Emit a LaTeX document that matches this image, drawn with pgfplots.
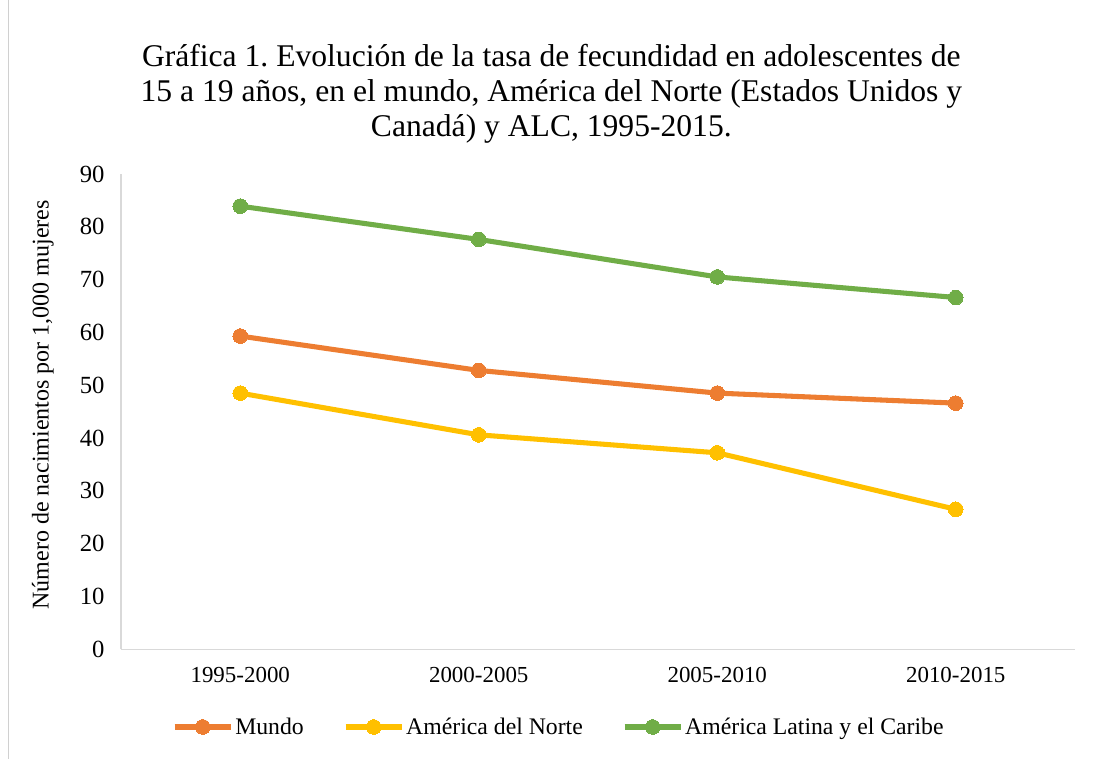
\documentclass[border=0pt]{standalone}
\usepackage{fontspec}
\setmainfont{Liberation Serif}
\usepackage{pgfplots}
\pgfplotsset{compat=1.18}
\definecolor{cOr}{HTML}{ED7D31}
\definecolor{cYe}{HTML}{FFC000}
\definecolor{cGr}{HTML}{70AD47}
\definecolor{axg}{HTML}{D9D9D9}
\definecolor{brd}{HTML}{D0D0D0}
\frenchspacing
\begin{document}
\begin{tikzpicture}
\path[use as bounding box] (0,0) rectangle (819.75pt,569.25pt);
\draw[brd, line width=0.75pt] (6pt,0) -- (6pt,569.25pt);
\node[anchor=base, font=\fontsize{23.7}{28}\selectfont] at (413.5pt,519.2pt) {Gráfica 1. Evolución de la tasa de fecundidad en adolescentes de};
\node[anchor=base, font=\fontsize{23.7}{28}\selectfont] at (413.5pt,493pt) {15 a 19 años, en el mundo, América del Norte (Estados Unidos y};
\node[anchor=base, font=\fontsize{23.7}{28}\selectfont] at (413.5pt,466.7pt) {Canadá) y ALC, 1995-2015.};
\begin{axis}[
  at={(90.75pt,82.3pt)}, anchor=south west,
  scale only axis, width=715.5pt, height=356.5pt,
  xmin=-0.5, xmax=3.5, ymin=0, ymax=90,
  xtick={0,1,2,3},
  xticklabels={1995-2000,2000-2005,2005-2010,2010-2015},
  ytick={0,10,...,90},
  axis x line=bottom, axis y line=left,
  axis line style={-, draw=axg, line width=1.1pt},
  major tick length=0pt, tick style={draw=none},
  /pgf/number format/assume math mode=true,
  xticklabel style={font=\fontsize{17.2}{20}\selectfont, yshift=-9.6pt},
  yticklabel style={font=\fontsize{18.5}{22}\selectfont, xshift=-8.8pt},
  every axis y label/.style={at={(axis description cs:-0.0818,0.514)}, rotate=90, anchor=center, font=\fontsize{18}{22}\selectfont},
  ylabel={Número de nacimientos por 1,000 mujeres},
  legend style={at={(0.459,-0.1635)}, anchor=center, legend columns=3, draw=none,
    font=\fontsize{17.8}{21}\selectfont, inner sep=0pt,
    nodes={inner xsep=1.5pt},
    /tikz/every even column/.append style={column sep=28pt}},
  legend image code/.code={\draw[mark repeat=2,mark phase=2,#1] plot coordinates {(0pt,0pt) (21pt,0pt) (42pt,0pt)};},
  every axis plot/.append style={line width=3.8pt, mark=*, mark size=5.5pt},
]
\addplot[cOr, mark options={fill=cOr, draw=cOr, line width=0pt}] coordinates {(0,59.3) (1,52.8) (2,48.5) (3,46.6)};
\addlegendentry{Mundo}
\addplot[cYe, mark options={fill=cYe, draw=cYe, line width=0pt}] coordinates {(0,48.5) (1,40.6) (2,37.2) (3,26.5)};
\addlegendentry{América del Norte}
\addplot[cGr, mark options={fill=cGr, draw=cGr, line width=0pt}] coordinates {(0,83.9) (1,77.6) (2,70.5) (3,66.6)};
\addlegendentry{América Latina y el Caribe}
\end{axis}
\end{tikzpicture}
\end{document}
